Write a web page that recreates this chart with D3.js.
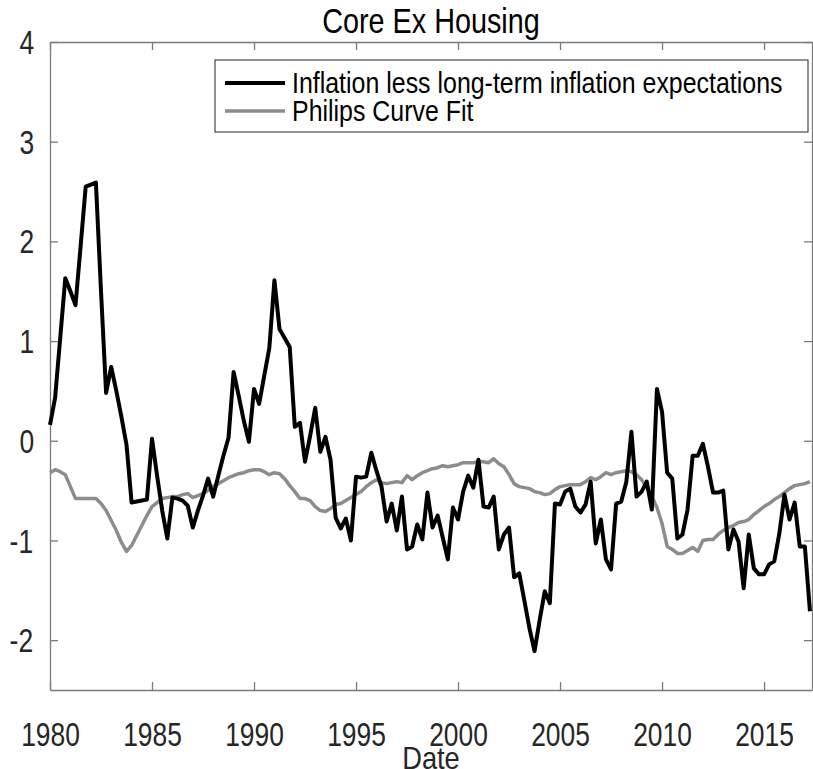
<!DOCTYPE html>
<html>
<head>
<meta charset="utf-8">
<script src="https://cdn.jsdelivr.net/npm/d3@7"></script>
<style>
body{margin:0;background:#fff}
text{font-family:"Liberation Sans",Arial,sans-serif;fill:#262626;
  transform-box:fill-box;transform-origin:center;transform:scaleX(0.8)}
text.lt{transform-origin:left center;transform:scaleX(0.86)}
text.xl{transform:scaleX(0.88)}
</style>
</head>
<body>
<div class="graph"></div>
<script>
// quarterly data, 1980Q1 .. 2017Q2
const startYear = 1980
const inflationGap = [
  0.16, 0.43, 1.03, 1.63,   1.50, 1.36, 1.95, 2.55,   2.57, 2.59, 1.50, 0.48,
  0.74, 0.50, 0.24, -0.04,  -0.62, -0.61, -0.60, -0.59, 0.02, -0.35, -0.70, -0.98,
  -0.57, -0.58, -0.60, -0.65, -0.87, -0.70, -0.55, -0.38, -0.56, -0.35, -0.15, 0.03,
  0.69, 0.45, 0.20, -0.01,  0.52, 0.37, 0.65, 0.93,   1.61, 1.12, 1.03, 0.94,
  0.14, 0.18, -0.21, 0.05,  0.33, -0.11, 0.04, -0.19, -0.77, -0.88, -0.78, -1.00,
  -0.36, -0.37, -0.36, -0.12, -0.30, -0.46, -0.81, -0.63, -0.90, -0.56, -1.09, -1.06,
  -0.84, -0.99, -0.52, -0.87, -0.75, -0.97, -1.19, -0.67, -0.79, -0.51, -0.35, -0.47,
  -0.19, -0.66, -0.67, -0.56, -1.09, -0.94, -0.87, -1.37, -1.33, -1.60, -1.88, -2.11,
  -1.80, -1.51, -1.63, -0.63, -0.64, -0.51, -0.48, -0.66, -0.72, -0.64, -0.41, -1.03,
  -0.79, -1.19, -1.29, -0.63, -0.61, -0.41, 0.09, -0.56, -0.51, -0.41, -0.69, 0.52,
  0.29, -0.32, -0.38, -0.98, -0.94, -0.69, -0.15, -0.15, -0.03, -0.26, -0.52, -0.52,
  -0.50, -1.09, -0.89, -1.01, -1.48, -0.94, -1.28, -1.34, -1.34, -1.24, -1.21, -0.93,
  -0.54, -0.79, -0.62, -1.06, -1.06, -1.71
]
const philipsFit = [
  -0.32, -0.29, -0.31, -0.34, -0.46, -0.58, -0.58, -0.58, -0.58, -0.58, -0.63, -0.70,
  -0.80, -0.90, -1.02, -1.11, -1.05, -0.95, -0.85, -0.75, -0.66, -0.62, -0.58, -0.57,
  -0.56, -0.56, -0.54, -0.53, -0.57, -0.55, -0.53, -0.50, -0.46, -0.43, -0.40, -0.37,
  -0.35, -0.33, -0.32, -0.30, -0.29, -0.29, -0.31, -0.34, -0.32, -0.33, -0.38, -0.45,
  -0.51, -0.58, -0.58, -0.60, -0.66, -0.70, -0.71, -0.68, -0.64, -0.63, -0.60, -0.57,
  -0.54, -0.51, -0.46, -0.42, -0.39, -0.42, -0.43, -0.42, -0.41, -0.42, -0.35, -0.39,
  -0.35, -0.32, -0.30, -0.28, -0.27, -0.25, -0.26, -0.25, -0.24, -0.22, -0.22, -0.22,
  -0.21, -0.21, -0.22, -0.18, -0.23, -0.26, -0.34, -0.43, -0.46, -0.47, -0.48, -0.51,
  -0.52, -0.54, -0.53, -0.49, -0.46, -0.45, -0.44, -0.44, -0.44, -0.41, -0.37, -0.39,
  -0.36, -0.32, -0.34, -0.32, -0.31, -0.30, -0.31, -0.34, -0.39, -0.47, -0.56, -0.67,
  -0.83, -1.06, -1.09, -1.13, -1.13, -1.10, -1.07, -1.11, -1.00, -0.99, -0.99, -0.94,
  -0.90, -0.87, -0.85, -0.82, -0.81, -0.79, -0.74, -0.70, -0.66, -0.63, -0.59, -0.56,
  -0.52, -0.48, -0.45, -0.44, -0.43, -0.41
]
const xTicks = [1980, 1985, 1990, 1995, 2000, 2005, 2010, 2015]
const yTicks = [-2, -1, 0, 1, 2, 3, 4]
const seriesNames = ["Inflation less long-term inflation expectations", "Philips Curve Fit"]
const seriesColors = ["#000000", "#8c8c8c"]

const W = 813, H = 769
const mLeft = 50, mRight = 812, mTop = 42, mBottom = 690

let svg = d3.select('.graph')
    .append('svg')
    .attr('width', W)
    .attr('height', H)

let x = d3.scaleLinear().domain([1980, 2017.35]).range([mLeft, mRight])
let y = d3.scaleLinear().domain([-2.5, 4]).range([mBottom, mTop])

//axes, ticks pointing inward like matlab
let fmt = d => String(d)
let gx = svg.append('g').attr('transform', `translate(0,${mBottom})`)
    .call(d3.axisBottom(x).tickValues(xTicks).tickFormat(fmt).tickSize(-8).tickSizeOuter(0).tickPadding(56))
let gy = svg.append('g').attr('transform', `translate(${mLeft},0)`)
    .call(d3.axisLeft(y).tickValues(yTicks).tickFormat(fmt).tickSize(-8).tickSizeOuter(0).tickPadding(14))
let gt = svg.append('g').attr('transform', `translate(0,${mTop})`)
    .call(d3.axisTop(x).tickValues(xTicks).tickFormat('').tickSize(-8).tickSizeOuter(0))
let gr = svg.append('g').attr('transform', `translate(${mRight},0)`)
    .call(d3.axisRight(y).tickValues(yTicks).tickFormat('').tickSize(-8).tickSizeOuter(0))

svg.selectAll('.domain, .tick line').attr('stroke', '#7a7a7a').attr('stroke-width', 1.3)
svg.selectAll('.tick text').attr('font-size', 33).attr('fill', '#262626')
gx.selectAll('.tick text').attr('dy', '0')
gy.selectAll('.tick text').attr('dy', '0.35em')

//lines
let line = d3.line()
    .x((d, i) => x(startYear + i / 4))
    .y(d => y(d))

svg.append('path').datum(philipsFit)
    .attr('d', line).attr('fill', 'none')
    .attr('stroke', seriesColors[1]).attr('stroke-width', 3.5).attr('stroke-linejoin', 'round')
svg.append('path').datum(inflationGap)
    .attr('d', line).attr('fill', 'none')
    .attr('stroke', seriesColors[0]).attr('stroke-width', 4).attr('stroke-linejoin', 'round')

//title + xlabel
svg.append('text').attr('x', (mLeft + mRight) / 2).attr('y', 33)
    .attr('text-anchor', 'middle').attr('font-size', 36).style('fill', '#000')
    .text('Core Ex Housing')
svg.append('text').attr('class', 'xl').attr('x', (mLeft + mRight) / 2).attr('y', 769)
    .attr('text-anchor', 'middle').attr('font-size', 31).style('fill', '#262626')
    .text('Date')

//legend
let lg = svg.append('g')
lg.append('rect').attr('x', 215).attr('y', 60).attr('width', 593).attr('height', 72)
    .attr('fill', '#fff').attr('stroke', '#262626').attr('stroke-width', 1)
seriesNames.forEach((name, i) => {
  let ly = 83 + i * 28
  lg.append('line').attr('x1', 225).attr('x2', 285).attr('y1', ly).attr('y2', ly)
    .attr('stroke', seriesColors[i]).attr('stroke-width', i ? 3.5 : 4)
  lg.append('text').attr('class', 'lt').attr('x', 292).attr('y', ly).attr('dy', '0.35em')
    .attr('font-size', 29).style('fill', '#000').text(name)
})
</script>
</body>
</html>
